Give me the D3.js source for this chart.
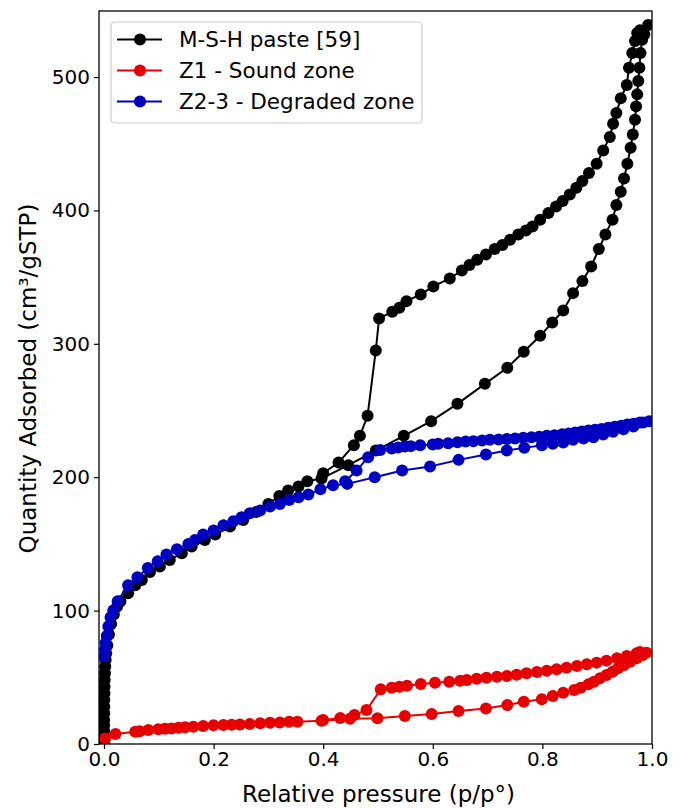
<!DOCTYPE html>
<html>
<head>
<meta charset="utf-8">
<script src="https://cdn.jsdelivr.net/npm/d3@7"></script>
<style>
  body { margin: 0; background: #fff; }
  svg text { font-family: "DejaVu Sans", sans-serif; fill: #000; }
</style>
</head>
<body>
<div id="chart"></div>
<script>
// M-S-H paste [59] : adsorption then desorption
var mshX = [0.0001,0.0001,0.0002,0.0002,0.0003,0.0004,0.0005,0.0006,0.0008,0.001,0.0013,0.0017,0.0022,0.003,0.004,0.006,0.009,0.013,0.018,0.024,0.03,0.044,0.057,0.069,0.084,0.102,0.12,0.142,0.16,0.184,0.203,0.23,0.254,0.278,0.3,0.32,0.336,0.355,0.371,0.397,0.446,0.496,0.547,0.597,0.645,0.695,0.736,0.766,0.796,0.818,0.838,0.856,0.873,0.889,0.903,0.915,0.928,0.935,0.943,0.949,0.955,0.961,0.965,0.969,0.971,0.973,0.975,0.977,0.979,0.982,0.986,0.993,
  0.978,0.973,0.969,0.964,0.958,0.954,0.943,0.935,0.929,0.923,0.911,0.899,0.885,0.873,0.862,0.85,0.837,0.825,0.811,0.796,0.782,0.77,0.756,0.741,0.727,0.713,0.697,0.681,0.667,0.653,0.631,0.601,0.578,0.552,0.539,0.526,0.502,0.496,0.481,0.467,0.456,0.428,0.4];
var mshY = [2,6,10,14,18,23,28,33,38,43,48,53,58,63,68,74,82,90,97,103,107,113,119,123,129,133,138,143,148,153,157,163,168,174,180,186,190,193,197,199,209,220,231,242,255,270,282,294,306,316,325,338,347,358,371,382,393,404,414,424,435,447,457,468,478,487,497,507,518,528,532,539,
  535,533,527,518,507,494,484,473,465,455,445,435,428,422,417,412,407,403,398,393,388,385,382,378,374,371,367,363,359,355,349,343,337,332,327,324,319,295,246,231,224,211,203];

// Z1 - Sound zone
var z1X = [0.002,0.021,0.057,0.065,0.081,0.099,0.111,0.123,0.136,0.148,0.163,0.181,0.2,0.218,0.233,0.248,0.266,0.285,0.303,0.321,0.338,0.353,0.397,0.449,0.499,0.549,0.598,0.647,0.697,0.736,0.766,0.799,0.819,0.838,0.858,0.87,0.884,0.894,0.905,0.917,0.928,0.938,0.949,0.96,0.972,0.983,0.99,
  0.978,0.972,0.954,0.936,0.917,0.899,0.881,0.863,0.844,0.826,0.808,0.79,0.771,0.753,0.735,0.717,0.698,0.68,0.662,0.65,0.63,0.604,0.578,0.553,0.539,0.525,0.505,0.479,0.457,0.431,0.4];
var z1Y = [4.2,7.5,9.2,9.6,10.5,11,11.5,11.7,12.2,12.5,13,13.5,14,14.2,14.5,14.7,15,15.5,16,16.2,16.7,16.7,17.5,19,19.3,21,22.5,24.7,26.7,29.2,31.7,33.5,36,38.5,40.5,42.2,44.7,46.7,49.2,51.7,54.2,56.7,59.2,61.7,64.2,66.7,68.5,
  69,68,66,64.2,62.5,61,59.7,58.5,57.2,56,55,54,53,52,51,50.5,49.7,49,48,47.5,46.7,46,45,43.7,43,42.2,41,25.5,21.7,19.4,18];

// Z2-3 - Degraded zone
var z23X = [0.001,0.002,0.003,0.005,0.008,0.012,0.017,0.025,0.044,0.061,0.08,0.098,0.114,0.133,0.154,0.166,0.181,0.2,0.218,0.236,0.251,0.266,0.285,0.303,0.321,0.338,0.355,0.373,0.395,0.418,0.444,0.494,0.544,0.595,0.647,0.697,0.735,0.767,0.799,0.819,0.838,0.856,0.875,0.893,0.911,0.929,0.948,0.966,0.984,0.995,
  0.978,0.966,0.955,0.944,0.932,0.92,0.908,0.896,0.884,0.872,0.86,0.848,0.836,0.822,0.808,0.794,0.78,0.765,0.75,0.735,0.72,0.704,0.69,0.674,0.66,0.645,0.628,0.61,0.6,0.577,0.56,0.549,0.537,0.525,0.504,0.482,0.461,0.44];
var z23Y = [66,71,76,81,88,95,100,107,119,125,132,137,142,146,150,153,157,160,164,167,170,173,175,178,180,183,185,187,191,194,195,200,205,208,213,217,220,222,224,225,226,228,229,230,232,234,236,238,241,242,
  241,240,239.5,238.5,237.8,237,236.2,235.6,235,234.2,233.5,232.8,232.2,231.5,231,230.4,230,229.6,229,228.6,228.2,228,227.5,227,226.7,226.2,225.4,225,224.6,224,223.3,223,222.3,221.6,220.4,215,205,197];

var seriesNames = ["M-S-H paste [59]", "Z1 - Sound zone", "Z2-3 - Degraded zone"];
var seriesColors = ["#000000", "#e60000", "#0000c0"];
var xTicks = [0, 0.2, 0.4, 0.6, 0.8, 1.0];
var yTicks = [0, 100, 200, 300, 400, 500];

var width = 683, height = 808;
var margin = { left: 99, top: 11, right: 31, bottom: 64 };
var plotW = width - margin.left - margin.right,
    plotH = height - margin.top - margin.bottom;

var svg = d3.select("#chart").append("svg")
    .attr("width", width)
    .attr("height", height);

var x = d3.scaleLinear().domain([-0.0091, 1.0]).range([0, plotW]);
var y = d3.scaleLinear().domain([0, 549.5]).range([plotH, 0]);

var g = svg.append("g")
    .attr("transform", "translate(" + margin.left + "," + margin.top + ")");

g.append("clipPath").attr("id", "clip")
  .append("rect").attr("width", plotW).attr("height", plotH);

// les trois isothermes
var series = [
  { x: mshX, y: mshY },
  { x: z1X, y: z1Y },
  { x: z23X, y: z23Y }
];

var line = d3.line().x(d => x(d[0])).y(d => y(d[1]));
var plotArea = g.append("g").attr("clip-path", "url(#clip)");

series.forEach(function(s, i) {
  var pts = s.x.map((v, k) => [v, s.y[k]]);
  var sg = plotArea.append("g");
  sg.append("path")
    .datum(pts)
    .attr("d", line)
    .attr("fill", "none")
    .attr("stroke", seriesColors[i])
    .attr("stroke-width", 2);
  sg.selectAll("circle")
    .data(pts)
    .enter()
    .append("circle")
    .attr("cx", d => x(d[0]))
    .attr("cy", d => y(d[1]))
    .attr("r", 6)
    .attr("fill", seriesColors[i]);
});

// axes
var xAxis = g.append("g")
    .attr("transform", "translate(0," + plotH + ")")
    .call(d3.axisBottom(x).tickValues(xTicks).tickFormat(d3.format(".1f")).tickSize(5).tickPadding(3));
var yAxis = g.append("g")
    .call(d3.axisLeft(y).tickValues(yTicks).tickFormat(d3.format("d")).tickSize(5).tickPadding(4));

[xAxis, yAxis].forEach(function(a) {
  a.select(".domain").remove();
  a.selectAll("line").attr("stroke", "#000").attr("stroke-width", 1.2);
  a.selectAll("text").style("font-size", "20px").style("font-family", "DejaVu Sans");
});

g.append("rect")
    .attr("width", plotW)
    .attr("height", plotH)
    .attr("fill", "none")
    .attr("stroke", "#000")
    .attr("stroke-width", 1.3);

// titres des axes
svg.append("text")
    .attr("x", margin.left + plotW / 2 + 3)
    .attr("y", 802)
    .attr("text-anchor", "middle")
    .style("font-size", "23px")
    .text("Relative pressure (p/p°)");

svg.append("text")
    .attr("transform", "translate(36," + (margin.top + plotH / 2 + 1) + ") rotate(-90)")
    .attr("text-anchor", "middle")
    .style("font-size", "23px")
    .text("Quantity Adsorbed (cm³/gSTP)");

// légende
var legend = svg.append("g").attr("transform", "translate(111,22)");
legend.append("rect")
    .attr("width", 311)
    .attr("height", 101)
    .attr("rx", 4)
    .attr("fill", "#fff")
    .attr("fill-opacity", 0.8)
    .attr("stroke", "#cccccc")
    .attr("stroke-width", 1.2);

seriesNames.forEach(function(name, i) {
  var row = legend.append("g").attr("transform", "translate(0," + (17.5 + i * 31) + ")");
  row.append("line")
    .attr("x1", 6).attr("x2", 51)
    .attr("stroke", seriesColors[i])
    .attr("stroke-width", 2);
  row.append("circle")
    .attr("cx", 29).attr("r", 6)
    .attr("fill", seriesColors[i]);
  row.append("text")
    .attr("x", 68)
    .attr("dy", "0.36em")
    .style("font-size", "21.5px")
    .text(name);
});
</script>
</body>
</html>
